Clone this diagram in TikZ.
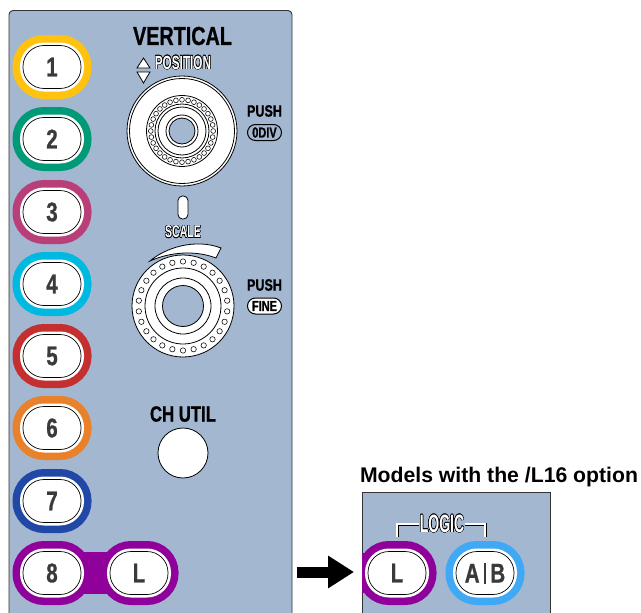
\documentclass[tikz,border=0pt]{standalone}
\usepackage{fontspec}
\usepackage{contour}
\setmainfont{Liberation Sans}
\newfontfamily\cond[FakeStretch=0.76,BoldFeatures={FakeBold=0.8}]{Liberation Sans}
\newfontfamily\vcond[FakeStretch=0.62]{Liberation Sans}
\newfontfamily\xcond[FakeStretch=0.56]{Liberation Sans}
\usetikzlibrary{arrows.meta,calc}
\contourlength{0.45pt}
\definecolor{panelc}{HTML}{A3B7D1}
\definecolor{cha}{HTML}{FFC20E}
\definecolor{chb}{HTML}{009A77}
\definecolor{chc}{HTML}{B93F79}
\definecolor{chd}{HTML}{00B9E0}
\definecolor{che}{HTML}{C4302F}
\definecolor{chf}{HTML}{E9812A}
\definecolor{chg}{HTML}{2148A6}
\definecolor{chh}{HTML}{90009A}
\definecolor{chi}{HTML}{3FA9F5}
\definecolor{ink}{HTML}{3A3A3A}
\tikzset{
  btn/.style={rectangle,rounded corners=21pt,minimum width=58pt,minimum height=43pt,inner sep=0pt,
    preaction={draw=#1,line width=21pt},
    preaction={draw=white,line width=6pt},
    fill=white,draw=black,line width=.7pt,text=ink,font=\cond\bfseries\fontsize{27}{27}\selectfont},
  panel/.style={fill=panelc,draw=black!80,line width=.9pt},
  ring/.style={draw=black,line width=.8pt,fill=white},
  bead/.style={draw=black,line width=.55pt,fill=white},
  pill/.style={rectangle,rounded corners=8pt,minimum width=34pt,minimum height=16pt,inner sep=0pt,draw=black,line width=1pt,font=\cond\bfseries\fontsize{14.5}{14.5}\selectfont},
  head/.style={inner sep=0pt,text=black,font=\cond\bfseries\fontsize{#1}{#1}\selectfont},
  ghost/.style={inner sep=0pt,text=white,font=\vcond\bfseries\fontsize{#1}{#1}\selectfont},
  tri/.style={fill=white,draw=black,line width=.8pt,line join=miter},
  dbl/.style={draw=black,line width=3pt,postaction={draw=white,line width=1.2pt}},
}
\begin{document}
\begin{tikzpicture}[x=1pt,y=-1pt]
\clip (0,0) rectangle (641,613);
% main panel
\draw[panel,rounded corners=4pt] (9,640) -- (9,10.5) -- (292,10.5) -- (292,640);
% purple link
\coordinate (b8c) at (52,573);
\coordinate (bLc) at (139,573);
\draw[chh,line width=42pt] (b8c) -- (bLc);
% channel buttons
\node[btn=cha] (b1) at (52,67) {1};
\node[btn=chb] (b2) at (52,139) {2};
\node[btn=chc] (b3) at (52,212) {3};
\node[btn=chd] (b4) at (52,284) {4};
\node[btn=che] (b5) at (52,356) {5};
\node[btn=chf] (b6) at (52,428) {6};
\node[btn=chg] (b7) at (52,501) {7};
\node[btn=chh] (b8) at (52,573) {8};
\node[btn=chh] (bL) at (139,573) {L};
% titles
\node[head=26] (vert) at (182.5,36) {VERTICAL};
\node[ghost=19] (pos) at (183,63) {\contour{black}{POSITION}};
\node[ghost=17] (scale) at (183,232) {\contour{black}{SCALE}};
\node[head=16.5] (p1) at (264.5,111) {PUSH};
\node[head=16.5] (p2) at (264.5,285) {PUSH};
\node[pill,fill=panelc] (div) at (264.5,132.5) {0DIV};
\node[pill,fill=white] (fine) at (264.5,306) {FINE};
\node[head=22] (chu) at (183,414) {CH UTIL};
% triangles
\draw[tri] (143.5,58) -- (150,68) -- (137,68) -- cycle;
\draw[tri] (143.5,83) -- (150,72) -- (137,72) -- cycle;
% position knob
\coordinate (k1) at (182,131);
\draw[ring] (k1) circle (55);
\draw[ring] (k1) circle (52.5);
\draw[ring] (k1) circle (35.5);
\draw[ring] (k1) circle (27);
\foreach \a in {0,11.25,...,349}{
  \draw[bead] ($(k1)+(\a:31.2)$) circle (2.4);
}
\draw[ring] (k1) circle (24);
\draw[ring] (k1) circle (16);
\draw[ring,fill=panelc] (k1) circle (13);
% slot
\node[rectangle,rounded corners=4.5pt,minimum width=10pt,minimum height=23pt,inner sep=0pt,draw=black,fill=white,line width=.8pt] (slot) at (183,207.5) {};
% scale wedge
\draw[ring] (150,261) .. controls (165,248) and (195,238) .. (221,248)
  -- (216,258) .. controls (195,250) and (170,252) .. cycle;
% scale knob
\coordinate (k2) at (183,306);
\draw[ring] (k2) circle (51);
\foreach \n in {0,...,25}{
  \draw[bead] ($(k2)+({90+\n*360/26}:44.5)$) circle (2.7);
}
\draw[ring] (k2) circle (38);
\draw[ring] (k2) circle (28);
\draw[ring,fill=panelc] (k2) circle (20.5);
% ch util button
\coordinate (cu) at (183,453);
\draw[ring] (cu) circle (25);
% arrow
\coordinate (arA) at (297,572);
\coordinate (arB) at (354,572);
\draw[-{Triangle[length=26pt,width=31pt]},line width=11pt,black] (arA) -- (arB);
% option title
\node[inner sep=0pt,font=\bfseries\fontsize{21.2}{21.2}\selectfont] (opt) at (499,477) {Models with the /L16 option};
% option panel
\begin{scope}
\draw[panel] (362,640) rectangle (550,492.5);
\clip (362,492.5) rectangle (550,640);
\coordinate (edge) at (355,573);
\coordinate (lc) at (397,573);
\draw[chh,line width=40pt] (edge) -- (lc);
\node[btn=chh] (bL2) at (397,573) {L};
\node[btn=chi] (bAB) at (485,573) {A\,\rule[-1pt]{1.8pt}{21pt}\,B};
\end{scope}
\node[inner sep=0pt,text=white,font=\xcond\bfseries\fontsize{25}{25}\selectfont] (logic) at (442,524) {\contour{black}{LOGIC}};
\coordinate (brA) at (397,537);
\coordinate (brB) at (485,537);
\draw[dbl] (brA) |- ($(logic.west)+(-1,0)$);
\draw[dbl] ($(logic.east)+(1,0)$) -| (brB);
\end{tikzpicture}
\end{document}
